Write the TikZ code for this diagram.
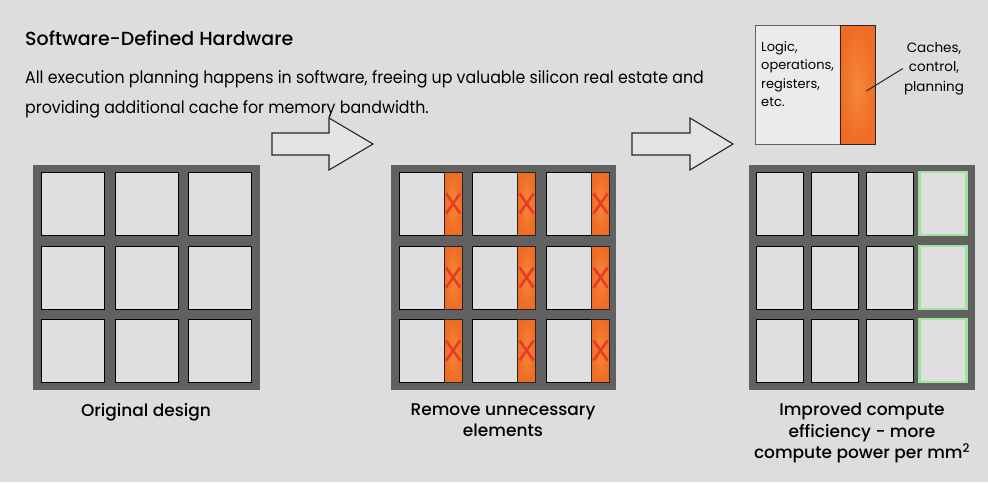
\documentclass[tikz,border=0pt]{standalone}
\usepackage{fontspec}
\setmainfont{Poppins}[BoldFont={Poppins Medium}]
\newfontfamily\bodyfont{Poppins}[FakeStretch=0.93]
\usetikzlibrary{positioning}

\definecolor{bg}{HTML}{DDDDDF}
\definecolor{cellgray}{HTML}{DFDFE1}
\definecolor{framegray}{HTML}{616161}
\definecolor{chiporange}{HTML}{EF6C24}
\definecolor{chiplight}{HTML}{F5883A}
\definecolor{crossred}{HTML}{EA3A26}
\definecolor{glowgreen}{HTML}{9EE39E}

\tikzset{
  cell/.style={draw=black, line width=1pt, fill=cellgray, inner sep=0pt,
    minimum width=63pt, minimum height=63pt},
  narrowcell/.style={cell, minimum width=47pt},
  greencell/.style={narrowcell, draw=glowgreen, line width=2.2pt},
  cachestrip/.style={draw=black!85, line width=0.8pt, inner sep=0pt,
    inner color=chiplight, outer color=chiporange,
    minimum width=18pt, minimum height=63pt},
  cross/.style={crossred, line width=2.6pt},
  label/.style={font=\bfseries\fontsize{17}{21.5}\selectfont, align=center, anchor=north, inner sep=0pt},
  blockarrow/.style={draw=black!85, fill=bg!80!white, line width=1.1pt, line join=miter}
}

\begin{document}
\begin{tikzpicture}[x=1pt,y=-1pt]
  \fill[bg] (0,0) rectangle (988,482);
  \useasboundingbox (0,0) rectangle (988,482);

  % heading
  \node[anchor=base west, inner sep=0pt, font=\bfseries\fontsize{19}{22}\selectfont] (title) at (25,45) {Software-Defined Hardware};
  \node[anchor=base west, inner sep=0pt, font=\bodyfont\fontsize{17}{20}\selectfont] (line1) at (25,83)
    {All execution planning happens in software, freeing up valuable silicon real estate and};
  \node[anchor=base west, inner sep=0pt, font=\bodyfont\fontsize{17}{20}\selectfont] (line2) at (25,113)
    {providing additional cache for memory bandwidth.};

  % original design
  \fill[framegray] (33,165) rectangle (260,390);
  \foreach \y [count=\i] in {203.5,277.5,350.5}
    \foreach \x [count=\j] in {72.5,146.5,220}
      \node[cell] (orig-\i-\j) at (\x,\y) {};
  \node[label] (origlabel) at (146,403) {Original design};

  % arrows
  \draw[blockarrow] (272,133) -- (329,133) -- (329,118) -- (373,144)
    -- (329,170) -- (329,155) -- (272,155) -- cycle;
  \draw[blockarrow] (632,133) -- (690,133) -- (690,118) -- (733,144)
    -- (690,170) -- (690,155) -- (632,155) -- cycle;

  % remove unnecessary elements
  \fill[framegray] (391,165) rectangle (616,390);
  \foreach \y [count=\i] in {203.5,277.5,350.5}
    \foreach \x [count=\j] in {430.5,504,578}
    {
      \node[cell] (rem-\i-\j) at (\x,\y) {};
      \node[cachestrip, anchor=east] (strip-\i-\j) at (rem-\i-\j.east) {};
      \draw[cross] (strip-\i-\j.center) ++(-7,-10) -- ++(14,20);
      \draw[cross] (strip-\i-\j.center) ++(7,-10) -- ++(-14,20);
    }
  \node[label] (remlabel) at (503,403) {Remove unnecessary\\elements};

  % improved compute efficiency
  \fill[framegray] (749,165) rectangle (975,390);
  \foreach \y [count=\i] in {203.5,277.5,350.5}
  {
    \foreach \x [count=\j] in {779.5,834.5,889.5}
      \node[narrowcell] (imp-\i-\j) at (\x,\y) {};
    \node[greencell] (imp-\i-4) at (943,\y) {};
  }
  \node[label] (implabel) at (862,403) {Improved compute\\efficiency - more\\compute power per mm\textsuperscript{2}};

  % legend
  \node[draw=framegray, line width=1.4pt, fill=bg!60!white, inner sep=0pt,
    minimum width=119pt, minimum height=119pt, anchor=north west] (unit) at (755,25) {};
  \node[draw=black!85, line width=0.9pt, inner sep=0pt, inner color=chiplight, outer color=chiporange,
    minimum width=35pt, minimum height=119pt, anchor=north east] (cache) at (unit.north east) {};
  \node[anchor=north west, align=left, inner sep=0pt, font=\fontsize{13}{18.5}\selectfont] (logic) at (761,41)
    {Logic,\\operations,\\registers,\\etc.};
  \node[anchor=north, align=center, inner sep=0pt, font=\fontsize{13.5}{19.5}\selectfont] (caches) at (934,42)
    {Caches,\\control,\\planning};
  \draw[black!85, line width=1pt] ([xshift=-1pt]caches.west) -- ([xshift=9pt,yshift=-6pt]cache.center);
\end{tikzpicture}
\end{document}
